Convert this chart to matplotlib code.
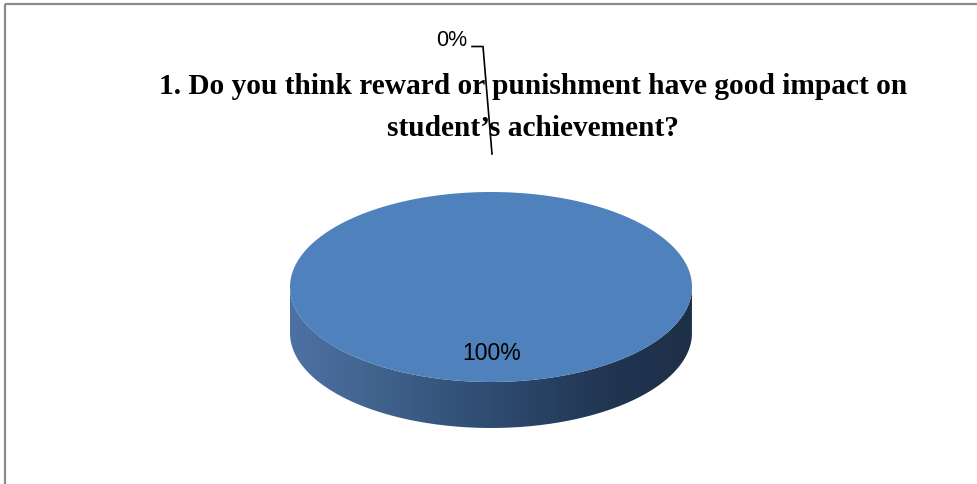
import numpy as np
import matplotlib
matplotlib.use('Agg')
import matplotlib.pyplot as plt
from matplotlib.path import Path
from matplotlib.patches import PathPatch
from matplotlib.colors import LinearSegmentedColormap

# Respuestas de la encuesta
categorias = ['Yes', 'No']
valores = [100, 0]
etiquetas = ['100%', '0%']

titulo = "1. Do you think reward or punishment have good impact on\nstudent\u2019s achievement?"

# Geometría del pastel 3D (coordenadas en píxeles)
cx, cy = 491, 288
ra, rb = 201, 95
prof = 46

color_cara = '#4f81bd'
grad_lado = LinearSegmentedColormap.from_list(
    'lado', ['#4d71a3', '#41648f', '#34547b', '#2a4466', '#213551', '#1e2f48'])

fig = plt.figure(figsize=(9.78, 4.85), dpi=100)
ax = fig.add_axes([0, 0, 1, 1])
ax.set_xlim(0, 978)
ax.set_ylim(485, 0)
ax.axis('off')

# Marco del gráfico
ax.plot([4.5, 978], [4.5, 4.5], color='#8c8c8c', lw=1.6, solid_capstyle='butt')
ax.plot([4.5, 4.5], [4.5, 485], color='#8c8c8c', lw=1.6, solid_capstyle='butt')


def punto(t, dy=0.0):
    return cx + ra * np.cos(t), cy - rb * np.sin(t) + dy


# Lado frontal del cilindro con degradado
t = np.linspace(np.pi, 2 * np.pi, 300)
xs, ys = punto(t)
xb, yb = punto(t[::-1], prof)
verts = np.column_stack([np.r_[xs, xb], np.r_[ys, yb]])
lado = PathPatch(Path(verts), facecolor='none', edgecolor='none')
ax.add_patch(lado)
img = ax.imshow(np.linspace(0, 1, 256)[None, :], cmap=grad_lado, aspect='auto',
                extent=[cx - ra, cx + ra, cy + rb + prof, cy - 5], zorder=1)
img.set_clip_path(lado)

# Cara superior: una porción por cada valor
total = sum(valores)
inicio = np.pi / 2
angulos = []
for v in valores:
    barrido = 2 * np.pi * v / total
    angulos.append((inicio, inicio - barrido))
    if barrido > 0:
        tt = np.linspace(inicio, inicio - barrido, 400)
        px, py = punto(tt)
        if barrido < 2 * np.pi - 1e-9:
            px = np.r_[cx, px]
            py = np.r_[cy, py]
        ax.fill(px, py, color=color_cara, lw=0, zorder=2)
    inicio -= barrido

# Etiqueta de la porción grande sobre la cara
ax.text(cx + 1, cy + 66, etiquetas[0], ha='center', va='center',
        fontsize=16.5, family='Liberation Sans', color='black', zorder=3)

# Etiqueta de la porción nula con línea guía
a0 = angulos[1][0]
bx, by = punto(a0)
ax.plot([472, 483, bx + 1], [47.5, 47.5, by - 38], color='black', lw=1.2, zorder=4)
ax.text(467, 41, etiquetas[1], ha='right', va='center',
        fontsize=15.5, family='Liberation Sans', color='black', zorder=4)

# Título
ax.text(533, 107.5, titulo, ha='center', va='center', fontsize=21.2,
        family='Liberation Serif', fontweight='bold', linespacing=1.7, zorder=3)

fig.savefig('out.png', dpi=100)
